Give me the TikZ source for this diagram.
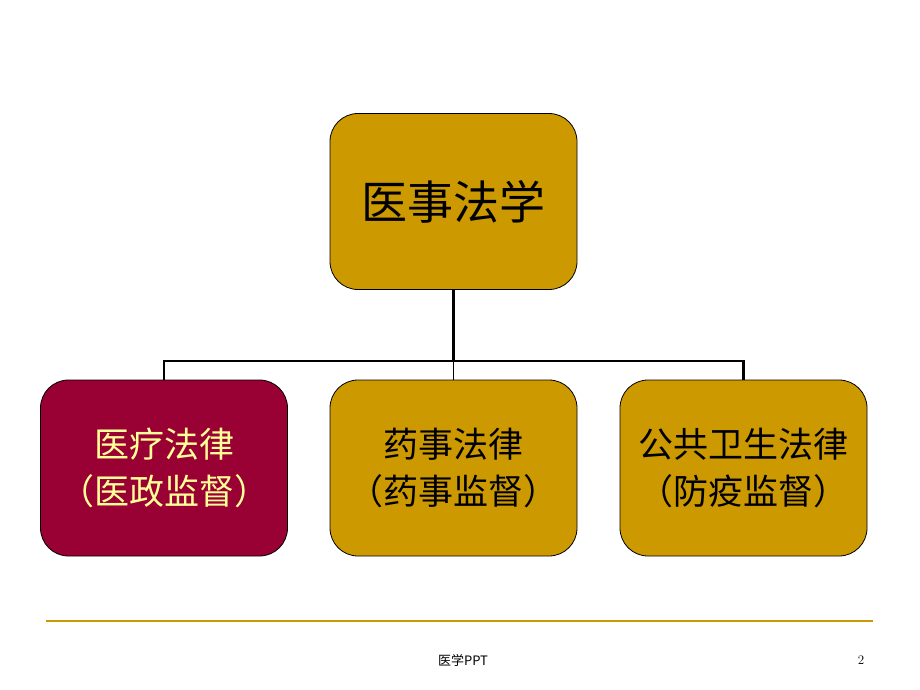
\documentclass[tikz,border=0pt]{standalone}
\usepackage{fontspec}
\usepackage{xcolor}
\usetikzlibrary{positioning}
\newfontfamily\cjk{Noto Sans CJK SC}
\definecolor{oro}{HTML}{CC9900}
\definecolor{granate}{HTML}{990033}
\definecolor{crema}{HTML}{FFFF99}

\begin{document}
\begin{tikzpicture}[
        x=1pt, y=-1pt,
        font=\cjk,
        caja/.style={draw=black, line width=0.8pt, fill=oro, rounded corners=28pt,
            minimum width=247pt, minimum height=176pt, align=center, inner sep=0pt},
        rama/.style={line width=2.2pt, black}
    ]
        % --- Fondo y margenes ---
        \useasboundingbox (0,0) rectangle (920,690);

        % --- Caja principal ---
        \node[caja, font=\cjk\fontsize{46}{52}\selectfont] (raiz) at (453.5,201.5) {医事法学};

        % --- Cajas de la segunda fila ---
        \node[caja, fill=granate, text=crema, font=\cjk\fontsize{35}{47}\selectfont]
            (medica) at (164,468) {医疗法律\\（医政监督）};
        \node[caja, font=\cjk\fontsize{35}{47}\selectfont]
            (farmacia) at (453.5,468) {药事法律\\（药事监督）};
        \node[caja, font=\cjk\fontsize{35}{47}\selectfont]
            (publica) at (743.5,468) {公共卫生法律\\（防疫监督）};

        % --- Conectores ---
        \coordinate (bus) at (453.5,361);
        \draw[rama] (raiz.south) -- (bus);
        \draw[rama] (medica.north) |- (bus) -| (publica.north);
        \draw[rama, line width=1.2pt] (bus) -- (farmacia.north);

        % --- Pie de pagina ---
        \draw[oro, line width=2pt] (46,621) -- (873,621);
        \node[font=\cjk\fontsize{13}{15}\selectfont] (pie) at (463,660) {医学PPT};
        \node[font=\fontsize{13}{15}\selectfont] (pagina) at (861,660) {2};

    \end{tikzpicture}
\end{document}
